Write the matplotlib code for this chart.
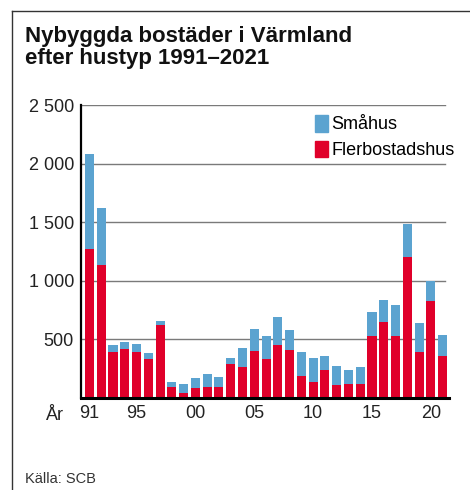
import numpy as np
import matplotlib.pyplot as plt
from matplotlib.patches import Patch

plt.rcParams['font.family'] = ['Liberation Sans', 'DejaVu Sans']

years = np.arange(1991, 2022)
flerbostadshus = [1273, 1139, 395, 415, 395, 335, 625, 97, 45, 88, 97, 97, 293, 267,
                  403, 335, 455, 412, 190, 139, 241, 114, 122, 122, 531, 651, 531,
                  1205, 395, 830, 361]
smahus = [809, 483, 60, 65, 68, 51, 34, 42, 77, 85, 110, 85, 51, 162,
          188, 196, 238, 170, 205, 205, 120, 162, 119, 145, 205, 187, 264,
          281, 247, 170, 179]
tick_years = [1991, 1995, 2000, 2005, 2010, 2015, 2020]
tick_labels = ["91", "95", "00", "05", "10", "15", "20"]
y_ticks = [500, 1000, 1500, 2000, 2500]
y_labels = ["500", "1 000", "1 500", "2 000", "2 500"]

red = "#E0002A"
blue = "#5BA3D0"
fs = 13

fig = plt.figure(figsize=(4.7, 4.9), dpi=100)
ax = fig.add_axes([81/470, 92/490, 367.5/470, 293/490])

for y in y_ticks:
    ax.axhline(y, xmin=0, xmax=364/367.5, color="#7a7a7a", lw=1.0, zorder=0)

ax.bar(years, flerbostadshus, width=0.77, color=red, zorder=2)
ax.bar(years, smahus, width=0.77, bottom=flerbostadshus, color=blue, zorder=2)

ax.set_xlim(1990.28, 2021.5)
ax.set_ylim(0, 2500)
ax.set_yticks(y_ticks)
ax.set_yticklabels(y_labels)
ax.set_xticks(tick_years)
ax.set_xticklabels(tick_labels)
ax.tick_params(length=0, labelsize=fs, colors="#222222")
ax.tick_params(axis="y", pad=5)
ax.tick_params(axis="x", pad=5)

for s in ["top", "right"]:
    ax.spines[s].set_visible(False)
ax.spines["left"].set_linewidth(1.6)
ax.spines["bottom"].set_linewidth(2.2)
ax.spines["left"].set_zorder(3)
ax.spines["bottom"].set_zorder(3)

# "År" on the same line as the year labels
ax.text(1990.28 - 26/11.77, -2500*9/293, "År", fontsize=fs, color="#222222",
        ha="center", va="top")

handles = [Patch(color=blue, label="Småhus"), Patch(color=red, label="Flerbostadshus")]
fig.legend(handles=handles, loc="upper left", bbox_to_anchor=(313/470, 1 - 113/490),
           frameon=False, fontsize=fs, handlelength=0.72, handleheight=1.05,
           handletextpad=0.2, labelspacing=0.4, borderaxespad=0, borderpad=0.1)

fig.text(25/470, 1 - 42/490, "Nybyggda bostäder i Värmland",
         fontsize=16, fontweight="bold", ha="left", va="baseline", color="#111111")
fig.text(25/470, 1 - 64/490, "efter hustyp 1991\u20132021",
         fontsize=16, fontweight="bold", ha="left", va="baseline", color="#111111")
fig.text(25/470, 1 - 479/490, "Källa: SCB", fontsize=10.5, color="#333333",
         ha="left", va="center")

fig.add_artist(plt.Line2D([12/470, 12/470], [0, 1 - 11/490], transform=fig.transFigure,
                          color="#333333", lw=1.0))
fig.add_artist(plt.Line2D([12/470, 1], [1 - 11/490, 1 - 11/490], transform=fig.transFigure,
                          color="#333333", lw=1.0))

fig.savefig("out.png", dpi=100)
